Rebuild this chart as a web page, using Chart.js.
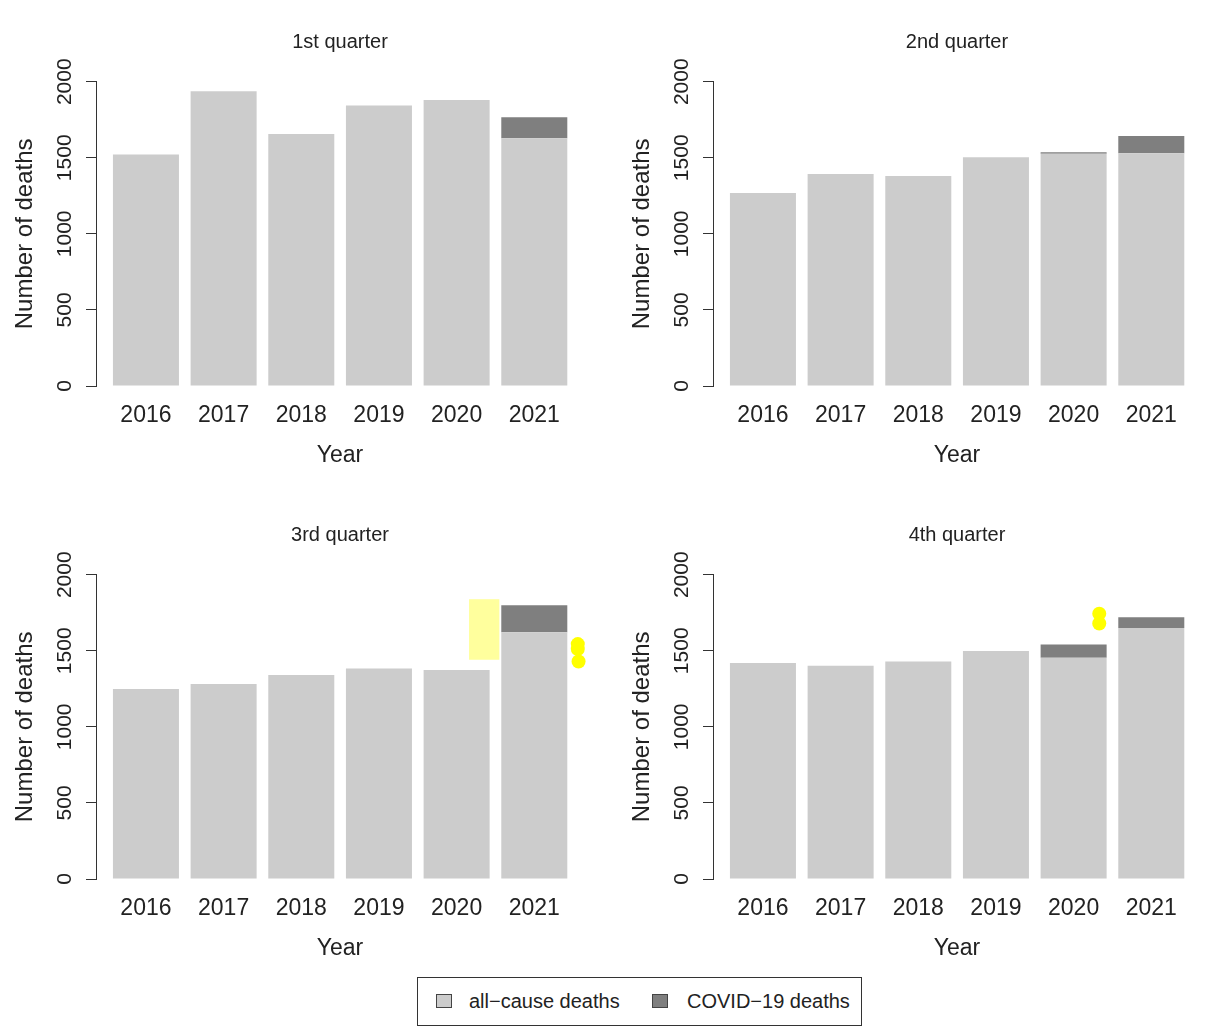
<!DOCTYPE html>
<html><head><meta charset="utf-8">
<script src="https://cdn.jsdelivr.net/npm/chart.js@4.4.1/dist/chart.umd.min.js"></script>
<style>
html,body{margin:0;padding:0;background:#fff;overflow:hidden;width:1206px;height:1036px;}
.panel{position:absolute;width:589px;height:493px;}
canvas{display:block;}
#legend{position:absolute;left:417px;top:977px;width:443px;height:47px;border:1px solid #333;font-family:"Liberation Sans",Arial,sans-serif;font-size:20px;color:#222;background:#fff;}
.sw{position:absolute;top:16px;width:14px;height:12px;border:1px solid #444;}
.lt{position:absolute;top:11px;line-height:24px;white-space:nowrap;}
</style></head><body>
<div class="panel" style="left:0;top:0"><canvas id="c0" width="589" height="493"></canvas></div>
<div class="panel" style="left:617px;top:0"><canvas id="c1" width="589" height="493"></canvas></div>
<div class="panel" style="left:0;top:493px"><canvas id="c2" width="589" height="493"></canvas></div>
<div class="panel" style="left:617px;top:493px"><canvas id="c3" width="589" height="493"></canvas></div>
<div id="legend">
  <div class="sw" style="left:18px;background:#cccccc"></div><div class="lt" style="left:51px">all−cause deaths</div>
  <div class="sw" style="left:234px;background:#7f7f7f"></div><div class="lt" style="left:269px">COVID−19 deaths</div>
</div>
<script>
// ---- data ----
const years = [2016, 2017, 2018, 2019, 2020, 2021];
const panelTitles = ["1st quarter", "2nd quarter", "3rd quarter", "4th quarter"];
const yTicks = [0, 500, 1000, 1500, 2000];
// all-cause deaths excluding COVID-19 (lower segment)
const q1Other = [1521, 1938, 1656, 1844, 1879, 1628];
const q2Other = [1269, 1394, 1380, 1503, 1527, 1529];
const q3Other = [1249, 1281, 1340, 1384, 1373, 1622];
const q4Other = [1419, 1401, 1430, 1498, 1454, 1649];
// COVID-19 deaths (upper segment)
const q1Covid = [0, 0, 0, 0, 0, 138];
const q2Covid = [0, 0, 0, 0, 10, 114];
const q3Covid = [0, 0, 0, 0, 0, 177];
const q4Covid = [0, 0, 0, 0, 87, 72];
// yellow highlight marks seen on the image (data units: year, deaths)
const q3HighlightBox = [2020.16, 2020.55, 1441, 1839];
const q3HighlightDots = [[2021.56, 1544], [2021.56, 1511], [2021.57, 1430]];
const q4HighlightDots = [[2020.33, 1744], [2020.33, 1679]];

const FONT = '"Liberation Sans", Arial, Helvetica, sans-serif';
const TXT = '#222222';

const hlPlugin = {
  id: 'hl',
  afterDatasetsDraw(chart, args, opts) {
    const {ctx} = chart, xs = chart.scales.x, ys = chart.scales.y;
    ctx.save();
    if (opts.box) {
      const b = opts.box;
      const x0 = xs.getPixelForValue(b[0]), x1 = xs.getPixelForValue(b[1]);
      const y0 = ys.getPixelForValue(b[3]), y1 = ys.getPixelForValue(b[2]);
      ctx.fillStyle = 'rgba(255,255,140,0.85)';
      ctx.fillRect(x0, y0, x1 - x0, y1 - y0);
    }
    (opts.dots || []).forEach(d => {
      ctx.beginPath();
      ctx.fillStyle = '#ffff00';
      ctx.arc(xs.getPixelForValue(d[0]), ys.getPixelForValue(d[1]), 7, 0, Math.PI * 2);
      ctx.fill();
    });
    ctx.restore();
  }
};

function makePanel(id, title, other, covid, hl) {
  new Chart(document.getElementById(id), {
    type: 'bar',
    data: {
      datasets: [
        {label: 'all−cause deaths', data: years.map((y, i) => ({x: y, y: other[i]})),
         backgroundColor: '#cccccc', borderWidth: 0, categoryPercentage: 1, barPercentage: 0.85},
        {label: 'COVID−19 deaths', data: years.map((y, i) => ({x: y, y: covid[i]})),
         backgroundColor: '#7f7f7f', borderWidth: 0, categoryPercentage: 1, barPercentage: 0.85}
      ]
    },
    options: {
      responsive: false,
      animation: false,
      events: [],
      layout: {padding: {left: 0, right: 5, top: 0, bottom: 0}},
      plugins: {
        legend: {display: false},
        tooltip: {enabled: false},
        title: {display: true, text: title, color: TXT, fullSize: false,
                font: {family: FONT, size: 20, weight: 'normal'},
                padding: {top: 30, bottom: 27.7}},
        hl: hl || {}
      },
      scales: {
        x: {
          type: 'linear', stacked: true, offset: false,
          min: 2015.357, max: 2021.64,
          afterBuildTicks: s => { s.ticks = years.map(v => ({value: v})); },
          afterFit: s => { s.height = 107; s.paddingLeft = 0; s.paddingRight = 0; },
          grid: {display: false, drawTicks: false, offset: false},
          border: {display: false},
          ticks: {color: TXT, font: {family: FONT, size: 23}, padding: 16.3,
                  autoSkip: false, maxRotation: 0, callback: v => String(v)},
          title: {display: true, text: 'Year', color: TXT,
                  font: {family: FONT, size: 23}, padding: {top: 0, bottom: 24}}
        },
        y: {
          stacked: true, min: 0, max: 2000,
          afterBuildTicks: s => { s.ticks = yTicks.map(v => ({value: v})); },
          afterFit: s => { s.width = 96; },
          grid: {display: true, drawOnChartArea: false, drawTicks: true, tickLength: 10, color: '#333'},
          border: {display: true, color: '#333', width: 1},
          ticks: {color: TXT, font: {family: FONT, size: 21}, minRotation: 90, maxRotation: 90,
                  crossAlign: 'center', padding: -2.5, callback: v => String(v)},
          title: {display: true, text: 'Number of deaths', color: TXT,
                  font: {family: FONT, size: 24}, padding: {top: 11.2, bottom: 0}}
        }
      }
    },
    plugins: [hlPlugin]
  });
}

makePanel('c0', panelTitles[0], q1Other, q1Covid);
makePanel('c1', panelTitles[1], q2Other, q2Covid);
makePanel('c2', panelTitles[2], q3Other, q3Covid, {box: q3HighlightBox, dots: q3HighlightDots});
makePanel('c3', panelTitles[3], q4Other, q4Covid, {dots: q4HighlightDots});
</script>
</body></html>
